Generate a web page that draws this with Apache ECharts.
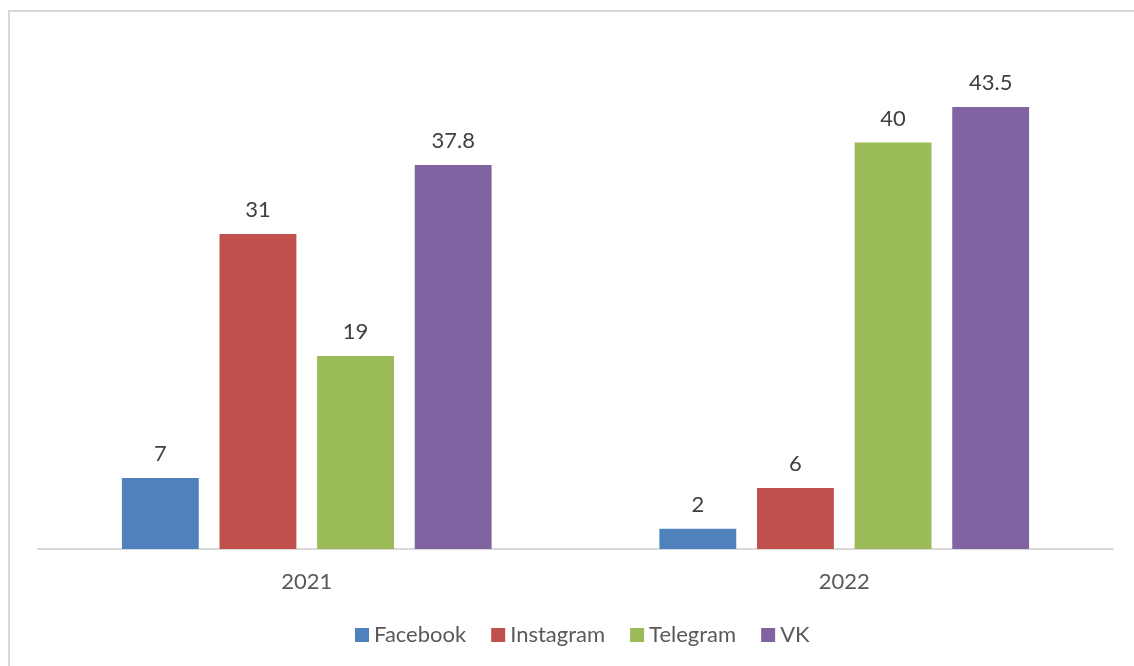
<!DOCTYPE html>
<html>
<head>
    <meta charset="utf-8">
    <script src="https://cdn.jsdelivr.net/npm/echarts@6/dist/echarts.min.js"></script>
    <style>
        html, body { margin: 0; padding: 0; background: #fff; overflow: hidden; }
        #frame { position: absolute; left: 8px; top: 10px; width: 1140px; height: 700px; border: 2px solid #d9d9d9; box-sizing: border-box; }
        #chart { position: absolute; left: 0; top: 0; width: 1134px; height: 666px; }
    </style>
</head>
<body>
    <div id="frame"></div>
    <div id="chart"></div>
    <script>
        const years = ['2021', '2022'];
        const facebook = [7, 2];
        const instagram = [31, 6];
        const telegram = [19, 40];
        const vk = [37.8, 43.5];

        const names = ['Facebook', 'Instagram', 'Telegram', 'VK'];
        const colors = ['#4f81bd', '#c0504d', '#9bbb59', '#8064a2'];
        const values = [facebook, instagram, telegram, vk];

        const font = 'Lato, "Noto Sans", sans-serif';

        const chart = echarts.init(document.getElementById('chart'));
        const series = [];
        for (let i = 0; i < names.length; ++i) {
            series.push({
                name: names[i],
                type: 'bar',
                data: values[i],
                barWidth: '14.3%',
                barGap: '27%',
                itemStyle: { color: colors[i] },
                label: {
                    show: true,
                    position: 'top',
                    distance: 13,
                    color: '#404040',
                    fontSize: 22,
                    fontFamily: font
                }
            });
        }

        chart.setOption({
            animation: false,
            color: colors,
            grid: { left: 38, right: 21, top: 41, bottom: 117 },
            legend: {
                bottom: 15,
                left: 350,
                itemWidth: 14,
                itemHeight: 14,
                itemGap: 25,
                icon: 'rect',
                textStyle: { color: '#595959', fontSize: 22, fontFamily: font },
                data: names
            },
            xAxis: {
                type: 'category',
                data: years,
                axisLine: { lineStyle: { color: '#d9d9d9', width: 2 } },
                axisTick: { show: false },
                axisLabel: { color: '#595959', fontSize: 22, fontFamily: font, margin: 22 }
            },
            yAxis: {
                type: 'value',
                min: 0,
                max: 50,
                show: false,
                splitLine: { show: false }
            },
            series: series
        });
    </script>
</body>
</html>
